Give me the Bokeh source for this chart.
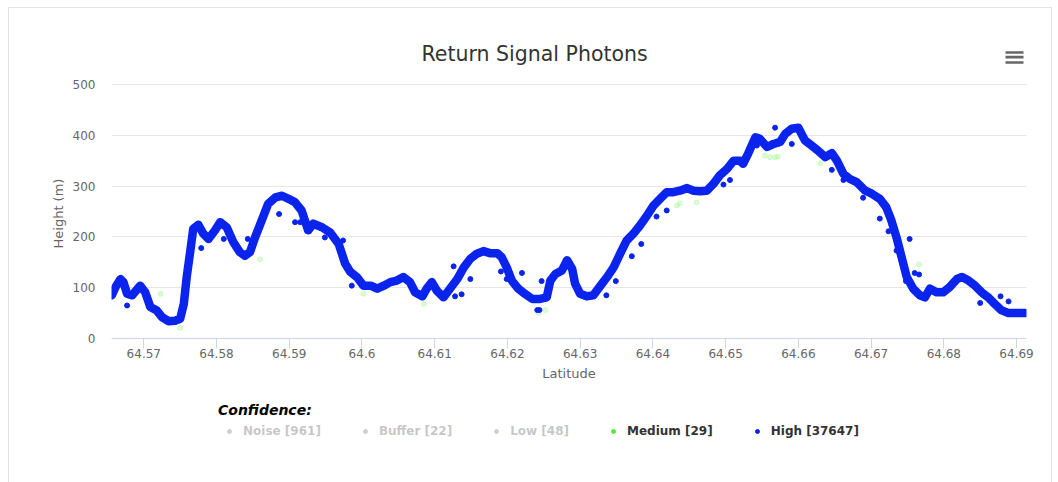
from bokeh.plotting import figure
from bokeh.layouts import column
from bokeh.models import (Range1d, FixedTicker, NumeralTickFormatter, Legend,
                          LegendItem, Label, Title, BoxAnnotation)
from bokeh.embed import file_html
from bokeh.resources import INLINE

# ---- main "High" confidence band (centre line) ----
high_lat = [64.5656, 64.5661, 64.5668, 64.5672, 64.5677, 64.5684, 64.5695, 64.5702,
            64.5709, 64.5718, 64.5725, 64.5734, 64.5743, 64.5750, 64.5755, 64.5759,
            64.5764, 64.5768, 64.5775, 64.5782, 64.5789, 64.5798, 64.5805, 64.5814,
            64.5823, 64.5832, 64.5839, 64.5846, 64.5853, 64.5862, 64.5871, 64.5881,
            64.5890, 64.5899, 64.5908, 64.5917, 64.5926, 64.5933, 64.5945, 64.5956,
            64.5968, 64.5977, 64.5984, 64.5993, 64.6002, 64.6012, 64.6021, 64.6030,
            64.6039, 64.6048, 64.6057, 64.6066, 64.6073, 64.6083, 64.6089, 64.6096,
            64.6103, 64.6112, 64.6121, 64.6131, 64.6140, 64.6149, 64.6158, 64.6167,
            64.6176, 64.6186, 64.6192, 64.6199, 64.6206, 64.6215, 64.6224, 64.6234,
            64.6245, 64.6254, 64.6259, 64.6266, 64.6275, 64.6282, 64.6289, 64.6293,
            64.6300, 64.6309, 64.6318, 64.6328, 64.6337, 64.6346, 64.6355, 64.6364,
            64.6373, 64.6382, 64.6392, 64.6401, 64.6410, 64.6419, 64.6428, 64.6437,
            64.6447, 64.6456, 64.6465, 64.6474, 64.6483, 64.6492, 64.6502, 64.6511,
            64.6520, 64.6524, 64.6531, 64.6541, 64.6547, 64.6557, 64.6566, 64.6575,
            64.6582, 64.6591, 64.6600, 64.6609, 64.6618, 64.6627, 64.6637, 64.6646,
            64.6653, 64.6662, 64.6671, 64.6680, 64.6692, 64.6701, 64.6712, 64.6721,
            64.6728, 64.6735, 64.6742, 64.6749, 64.6758, 64.6767, 64.6774, 64.6781,
            64.6790, 64.6799, 64.6808, 64.6818, 64.6825, 64.6834, 64.6843, 64.6852,
            64.6861, 64.6870, 64.6879, 64.6889, 64.6900, 64.6912]
high_h = [85, 101, 117, 111, 88, 85, 104, 91,
          62, 55, 42, 34, 35, 39, 68, 121,
          173, 216, 224, 206, 196, 213, 229, 219,
          190, 170, 163, 170, 199, 232, 265, 278,
          281, 275, 268, 252, 213, 226, 219, 209,
          186, 147, 131, 121, 104, 104, 98, 104,
          111, 114, 121, 111, 91, 83, 98, 111,
          94, 81, 98, 117, 140, 157, 167, 172,
          168, 168, 160, 140, 114, 98, 88, 78,
          78, 81, 114, 127, 134, 154, 137, 108,
          88, 83, 85, 104, 121, 140, 167, 193,
          206, 222, 242, 262, 275, 288, 288, 291,
          296, 291, 290, 291, 304, 321, 334, 350,
          350, 344, 364, 396, 393, 377, 383, 387,
          403, 413, 415, 390, 380, 370, 357, 365,
          350, 324, 314, 308, 291, 285, 275, 258,
          232, 199, 160, 121, 98, 85, 81, 98,
          91, 91, 101, 117, 121, 114, 104, 91,
          81, 68, 56, 50, 50, 50]

# ---- scattered "High" photons away from the band ----
out_lat = [64.5677, 64.5779, 64.5810, 64.5843, 64.5886, 64.5908, 64.5915, 64.5949,
           64.5974, 64.5986, 64.6126, 64.6128, 64.6137, 64.6149, 64.6191, 64.6199,
           64.6220, 64.6241, 64.6244, 64.6247, 64.6336, 64.6349, 64.6371, 64.6384,
           64.6405, 64.6419, 64.6497, 64.6506, 64.6543, 64.6568, 64.6591, 64.6646,
           64.6662, 64.6689, 64.6712, 64.6724, 64.6753, 64.6735, 64.6760, 64.6766,
           64.6748, 64.6850, 64.6878, 64.6889]
out_h = [65, 178, 196, 196, 245, 229, 229, 199,
         193, 104, 142, 83, 87, 117, 132, 117,
         129, 56, 56, 113, 85, 113, 162, 186,
         240, 252, 303, 312, 380, 415, 383, 332,
         312, 277, 236, 211, 196, 173, 129, 126,
         113, 70, 83, 73]

# ---- "Medium" confidence photons ----
med_lat = [64.5723, 64.5750, 64.5860, 64.6002, 64.6085, 64.6243, 64.6252, 64.6433,
           64.6437, 64.6460, 64.6554, 64.6561, 64.6568, 64.6572, 64.6630, 64.6766]
med_h = [88, 21, 156, 88, 68, 50, 56, 262,
         266, 268, 360, 357, 357, 358, 345, 146]

categories = ["Noise", "Buffer", "Low", "Medium", "High"]
counts = [961, 22, 48, 29, 37647]
x_ticks = [64.57, 64.58, 64.59, 64.60, 64.61, 64.62, 64.63, 64.64, 64.65,
           64.66, 64.67, 64.68, 64.69]
y_ticks = [0, 100, 200, 300, 400, 500]

BLUE = "#0a24ee"
FONT = "DejaVu Sans"

# the frame reaches above the 500 line so the heading and menu icon can sit in it
p = figure(width=1042, height=386, output_backend="svg", toolbar_location=None,
           x_range=Range1d(64.56556, 64.69137), y_range=Range1d(0, 606.3),
           min_border_left=102, min_border_right=25, min_border_top=22,
           min_border_bottom=56, title=None)
p.outline_line_color = None
p.background_fill_color = "white"
p.border_fill_color = "white"

# axes
p.xaxis.ticker = FixedTicker(ticks=x_ticks)
p.xaxis.formatter = NumeralTickFormatter(format="0.[00]")
p.xaxis.axis_label = "Latitude"
p.xaxis.axis_line_color = "#ccd6eb"
p.xaxis.major_tick_line_color = "#ccd6eb"
p.xaxis.major_tick_out = 10
p.xaxis.major_tick_in = 0
p.xaxis.minor_tick_line_color = None
p.xaxis.major_label_standoff = 0
p.xaxis.axis_label_standoff = 5

p.yaxis.ticker = FixedTicker(ticks=y_ticks)
p.yaxis.axis_line_color = None
p.yaxis.major_tick_line_color = None
p.yaxis.major_tick_out = 0
p.yaxis.major_tick_in = 0
p.yaxis.minor_tick_line_color = None
p.yaxis.major_label_standoff = 16

for ax in (p.xaxis, p.yaxis):
    ax.major_label_text_font = FONT
    ax.major_label_text_font_size = "12px"
    ax.major_label_text_color = "#666666"
    ax.axis_label_text_font = FONT
    ax.axis_label_text_font_size = "13px"
    ax.axis_label_text_font_style = "normal"
    ax.axis_label_text_color = "#666666"

ytitle = Title(text="Height (m)", align="left", offset=90, text_font=FONT,
               text_font_size="13px", text_font_style="normal", text_color="#666666",
               standoff=8)
p.add_layout(ytitle, "left")

p.xgrid.grid_line_color = None
p.ygrid.grid_line_color = "#e6e6e6"
p.ygrid.ticker = FixedTicker(ticks=y_ticks)

# data
p.scatter(med_lat, med_h, size=5, color="#9cf58a", alpha=0.35)
p.line(high_lat, high_h, line_width=8.5, color=BLUE, line_join="round", line_cap="round")
p.scatter(out_lat, out_h, size=5, color=BLUE)

# heading and menu icon (screen units)
p.add_layout(Label(x=310, y=285, x_units="screen", y_units="screen",
                   text="Return Signal Photons", text_font=FONT, text_font_size="20.5px",
                   text_color="#333333", text_baseline="middle", text_align="left"))
for b, t in ((284.7, 287.3), (280.0, 282.7), (274.7, 277.3)):
    p.add_layout(BoxAnnotation(left=894, right=912, bottom=b, top=t,
                               left_units="screen", right_units="screen",
                               bottom_units="screen", top_units="screen",
                               fill_color="#666666", fill_alpha=1, line_color=None))

# ---- legend strip (separate figure below the chart) ----
lg = figure(width=1042, height=88, output_backend="svg", toolbar_location=None,
            x_range=Range1d(0, 1), y_range=Range1d(0, 1), title=None,
            min_border=0, x_axis_type=None, y_axis_type=None)
lg.outline_line_color = None
lg.grid.grid_line_color = None

legend_colors = ["#555555", "#555555", "#555555", "#55ee33", BLUE]
nan = float("nan")
items = []
for name, cnt, col in zip(categories, counts, legend_colors):
    r = lg.scatter(x=[nan], y=[nan], size=4, color=col)
    if name in ("Noise", "Buffer", "Low"):
        r.visible = False
    items.append(LegendItem(label=f"{name} [{cnt}]", renderers=[r]))

legend = Legend(items=items, orientation="horizontal", location=(107, 44),
                click_policy="hide", title="Confidence:")
legend.title_text_font = FONT
legend.title_text_font_size = "14px"
legend.title_text_font_style = "bold italic"
legend.title_text_color = "#000000"
legend.title_standoff = 6
legend.label_text_font = FONT
legend.label_text_font_size = "12px"
legend.label_text_font_style = "bold"
legend.label_text_color = "#333333"
legend.glyph_width = 22
legend.glyph_height = 10
legend.label_standoff = 3
legend.spacing = 33
legend.padding = 4
legend.margin = 0
legend.border_line_color = None
legend.background_fill_alpha = 0
legend.inactive_fill_color = "white"
legend.inactive_fill_alpha = 0.72
lg.add_layout(legend, "center")

page = column(p, lg, spacing=0,
              styles={"margin-left": "8px", "margin-top": "7px",
                      "border": "1px solid #e3e3e3"})

open("out.html", "w").write(file_html(page, INLINE))
